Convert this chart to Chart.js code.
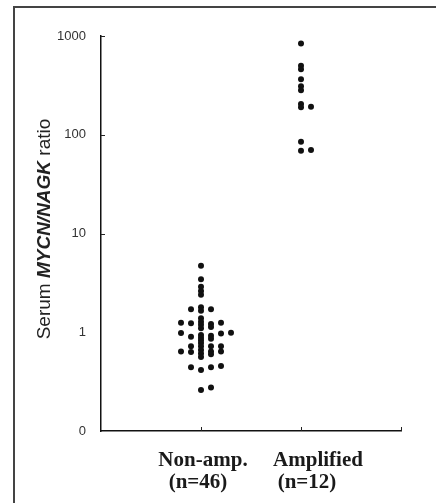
<!DOCTYPE html>
<html>
<head>
<meta charset="utf-8">
<script src="https://cdn.jsdelivr.net/npm/chart.js@4/dist/chart.umd.min.js"></script>
<style>
  html, body { margin: 0; padding: 0; background: #fff; }
  #wrap { position: relative; width: 436px; height: 503px; overflow: hidden; }
  #frame { position: absolute; left: 13px; top: 6px; width: 440px; height: 510px;
           border-left: 2px solid #444; border-top: 2px solid #444; }
  canvas { position: absolute; left: 0; top: 0; }
</style>
</head>
<body>
<div id="wrap">
  <div id="frame"></div>
  <canvas id="chart" width="436" height="503"></canvas>
</div>
<script>
// groups on the x axis
const groups = ['Non-amp.', 'Amplified'];
const groupCounts = ['(n=46)', '(n=12)'];

// y tick values (log scale), 0.1 is printed as "0"
const yTicks = [0.1, 1, 10, 100, 1000];

// Non-amplified: ratio values and horizontal jitter (in category units)
const nonAmpValues = [
  1.25, 0.98, 0.64,
  1.71, 1.23, 0.90, 0.72, 0.63, 0.443,
  4.72, 3.44, 2.89, 2.62, 2.40, 1.79, 1.65, 1.39, 1.28, 1.19, 1.10,
  0.94, 0.88, 0.83, 0.78, 0.72, 0.66, 0.61, 0.56, 0.415, 0.26,
  1.71, 1.21, 1.13, 0.92, 0.86, 0.72, 0.64, 0.60, 0.443, 0.275,
  1.25, 0.97, 0.72, 0.64, 0.456,
  0.99
];
const nonAmpOffsets = [
  -0.2, -0.2, -0.2,
  -0.1, -0.1, -0.1, -0.1, -0.1, -0.1,
  0, 0, 0, 0, 0, 0, 0, 0, 0, 0, 0,
  0, 0, 0, 0, 0, 0, 0, 0, 0, 0,
  0.1, 0.1, 0.1, 0.1, 0.1, 0.1, 0.1, 0.1, 0.1, 0.1,
  0.2, 0.2, 0.2, 0.2, 0.2,
  0.3
];

// Amplified
const ampValues  = [840, 500, 460, 365, 310, 283, 205, 190, 192, 85, 69, 70];
const ampOffsets = [0, 0, 0, 0, 0, 0, 0, 0, 0.1, 0, 0, 0.1];

const toPoints = (vals, offs, idx) => vals.map((v, i) => ({ x: idx + 1 + offs[i], y: v }));

// inward tick marks on both axes
const innerTicks = {
  id: 'innerTicks',
  afterDraw(chart) {
    const { ctx, scales: { x, y } } = chart;
    ctx.save();
    ctx.strokeStyle = '#222';
    ctx.lineWidth = 1;
    ctx.beginPath();
    [10, 100, 1000].forEach(v => {
      const py = Math.round(y.getPixelForValue(v)) + 0.5;
      ctx.moveTo(x.left, py); ctx.lineTo(x.left + 4, py);
    });
    [1, 2, 3].forEach(v => {
      const px = Math.round(x.getPixelForValue(v)) + 0.5;
      ctx.moveTo(px, y.bottom); ctx.lineTo(px, y.bottom - 4);
    });
    ctx.stroke();
    ctx.restore();
  }
};

// group labels under the axis and the mixed-style y title
const labelsPlugin = {
  id: 'labelsPlugin',
  afterDraw(chart) {
    const { ctx, scales: { x } } = chart;
    ctx.save();
    ctx.fillStyle = '#1a1a1a';
    ctx.textAlign = 'center';
    ctx.textBaseline = 'alphabetic';
    ctx.font = 'bold 21px "Liberation Serif", "Times New Roman", serif';
    const nameShift = [2, 17], countShift = [-3, 6];
    groups.forEach((g, i) => {
      const px = x.getPixelForValue(i + 1);
      ctx.fillText(g, px + nameShift[i], 466);
      ctx.fillText(groupCounts[i], px + countShift[i], 488);
    });

    // y title: "Serum MYCN/NAGK ratio"
    const parts = [
      { t: 'Serum ', f: '19px "Liberation Sans", Arial, sans-serif' },
      { t: 'MYCN/NAGK', f: 'italic bold 19px "Liberation Sans", Arial, sans-serif' },
      { t: ' ratio', f: '19px "Liberation Sans", Arial, sans-serif' }
    ];
    let total = 0;
    parts.forEach(p => { ctx.font = p.f; p.w = ctx.measureText(p.t).width; total += p.w; });
    ctx.translate(50, 229);
    ctx.rotate(-Math.PI / 2);
    ctx.textAlign = 'left';
    ctx.fillStyle = '#222';
    let cx = -total / 2;
    parts.forEach(p => { ctx.font = p.f; ctx.fillText(p.t, cx, 0); cx += p.w; });
    ctx.restore();
  }
};

new Chart(document.getElementById('chart'), {
  type: 'scatter',
  data: {
    datasets: [
      { label: groups[0], data: toPoints(nonAmpValues, nonAmpOffsets, 0) },
      { label: groups[1], data: toPoints(ampValues, ampOffsets, 1) }
    ]
  },
  options: {
    responsive: false,
    animation: false,
    events: [],
    layout: { padding: { left: 0, right: 35, top: 36, bottom: 0 } },
    elements: {
      point: { radius: 3, pointStyle: 'circle', backgroundColor: '#111', borderColor: '#111', borderWidth: 0 }
    },
    plugins: { legend: { display: false }, tooltip: { enabled: false } },
    scales: {
      x: {
        type: 'linear', min: 0, max: 3,
        grid: { display: false, drawTicks: false },
        border: { display: true, color: '#111', width: 1.5 },
        ticks: { display: false },
        afterFit(scale) { scale.height = 72; }
      },
      y: {
        type: 'logarithmic', min: 0.1, max: 1000,
        grid: { display: false, drawTicks: false },
        border: { display: true, color: '#111', width: 1.5 },
        afterBuildTicks(scale) { scale.ticks = yTicks.map(v => ({ value: v })); },
        ticks: {
          padding: 15,
          color: '#333',
          font: { family: '"Liberation Sans", Arial, sans-serif', size: 13 },
          callback: v => (v === 0.1 ? '0' : String(v))
        },
        afterFit(scale) { scale.width = 101; }
      }
    }
  },
  plugins: [innerTicks, labelsPlugin]
});
</script>
</body>
</html>
